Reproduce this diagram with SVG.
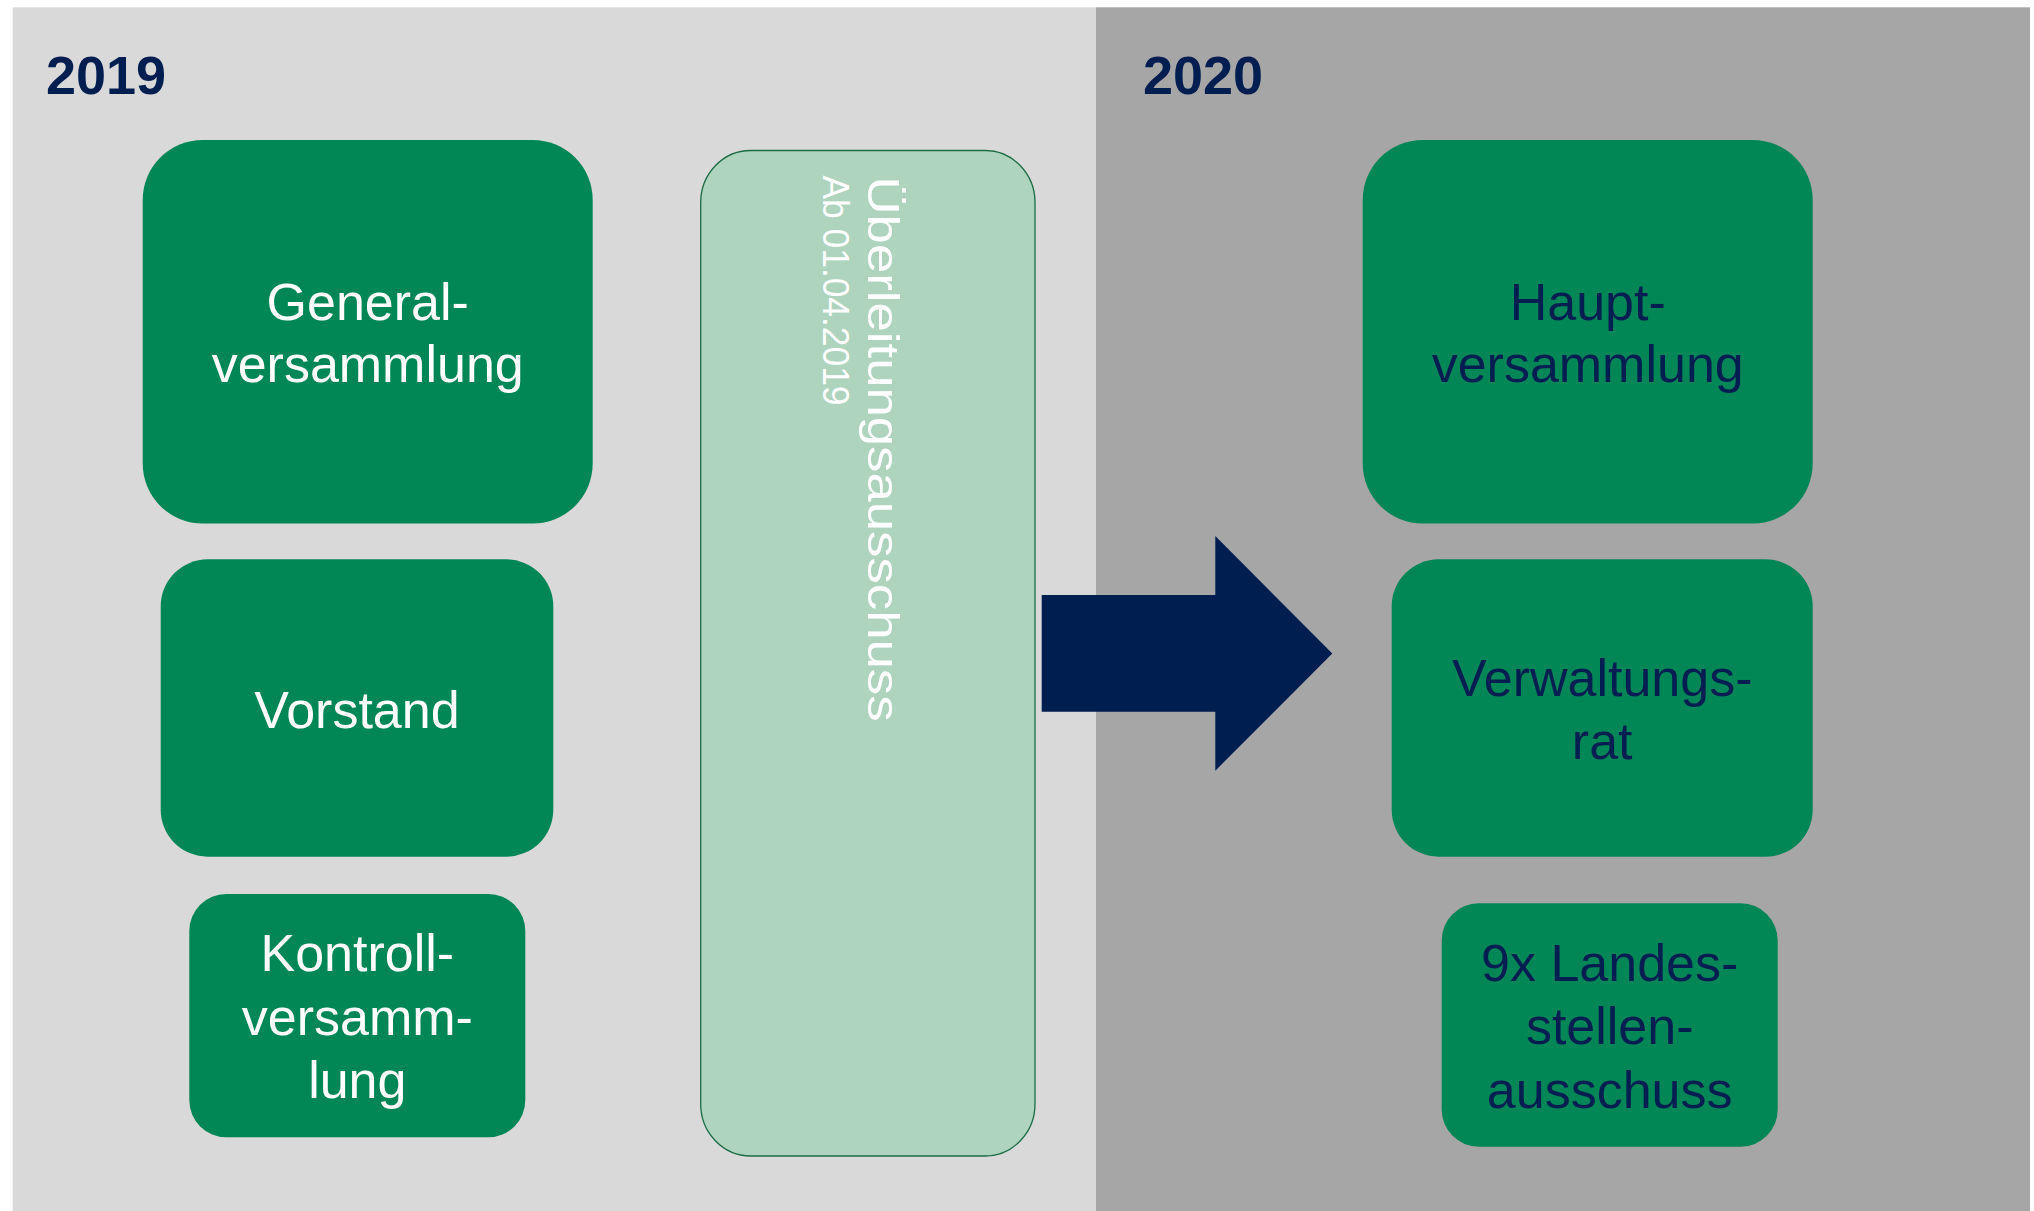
<svg xmlns="http://www.w3.org/2000/svg" width="2034" height="1211" viewBox="0 0 2034 1211">
  <style>
    .box { fill: #008755; }
    .lbl { font-family: "Liberation Sans", Arial, sans-serif; font-size: 52px; text-anchor: middle; }
    .w { fill: #ffffff; }
    .n { fill: #001E50; }
    .year { font-family: "Liberation Sans", Arial, sans-serif; font-size: 54px; font-weight: bold; fill: #001E50; }
    .vert { font-family: "Liberation Sans", Arial, sans-serif; fill: #ffffff; }
  </style>
  <rect x="0" y="0" width="2034" height="1211" fill="#ffffff"/>
  <g id="background">
    <rect x="12.7" y="7.3" width="1083.3" height="1203.7" fill="#D9D9D9"/>
    <rect x="1096" y="7.3" width="934" height="1203.7" fill="#A6A6A6"/>
    <text class="year" x="46" y="94">2019</text>
    <text class="year" x="1143" y="94">2020</text>
  </g>
  <g id="generalversammlung">
    <rect class="box" x="142.7" y="140" width="450" height="383.5" rx="60" ry="60"/>
    <text class="lbl w" x="367.7" y="320">General-</text>
    <text class="lbl w" x="367.7" y="381.7">versammlung</text>
  </g>
  <g id="vorstand">
    <rect class="box" x="160.7" y="559.3" width="392.6" height="297.4" rx="47" ry="47"/>
    <text class="lbl w" x="357" y="728.3">Vorstand</text>
  </g>
  <g id="kontrollversammlung">
    <rect class="box" x="189.3" y="894" width="336" height="243.3" rx="37" ry="37"/>
    <text class="lbl w" x="357.3" y="970.7">Kontroll-</text>
    <text class="lbl w" x="357.3" y="1035">versamm-</text>
    <text class="lbl w" x="357.3" y="1098.3">lung</text>
  </g>
  <g id="ueberleitungsausschuss">
    <rect x="700.7" y="150.5" width="334.3" height="1005.5" rx="50" ry="52" fill="#AED4BE" stroke="#1B6B45" stroke-width="1.3"/>
    <text class="vert" font-size="44" transform="translate(868.3,176.5) rotate(90)" textLength="545" lengthAdjust="spacingAndGlyphs">Überleitungsausschuss</text>
    <text class="vert" font-size="36" transform="translate(822.7,175.5) rotate(90)" textLength="230" lengthAdjust="spacingAndGlyphs">Ab 01.04.2019</text>
  </g>
  <g id="connectors">
    <polygon points="1041.7,595 1215.3,595 1215.3,536 1332.3,653.5 1215.3,770.7 1215.3,711.7 1041.7,711.7" fill="#001E50"/>
  </g>
  <g id="hauptversammlung">
    <rect class="box" x="1362.7" y="140" width="450" height="383.5" rx="60" ry="60"/>
    <text class="lbl n" x="1587.7" y="320">Haupt-</text>
    <text class="lbl n" x="1587.7" y="382">versammlung</text>
  </g>
  <g id="verwaltungsrat">
    <rect class="box" x="1391.7" y="559.3" width="421" height="297.4" rx="47" ry="47"/>
    <text class="lbl n" x="1602.2" y="696">Verwaltungs-</text>
    <text class="lbl n" x="1602.2" y="759.3">rat</text>
  </g>
  <g id="landesstellenausschuss">
    <rect class="box" x="1441.7" y="903.3" width="336" height="243.4" rx="37" ry="37"/>
    <text class="lbl n" x="1609.7" y="980.7">9x Landes-</text>
    <text class="lbl n" x="1609.7" y="1044.3">stellen-</text>
    <text class="lbl n" x="1609.7" y="1107.7">ausschuss</text>
  </g>
</svg>
